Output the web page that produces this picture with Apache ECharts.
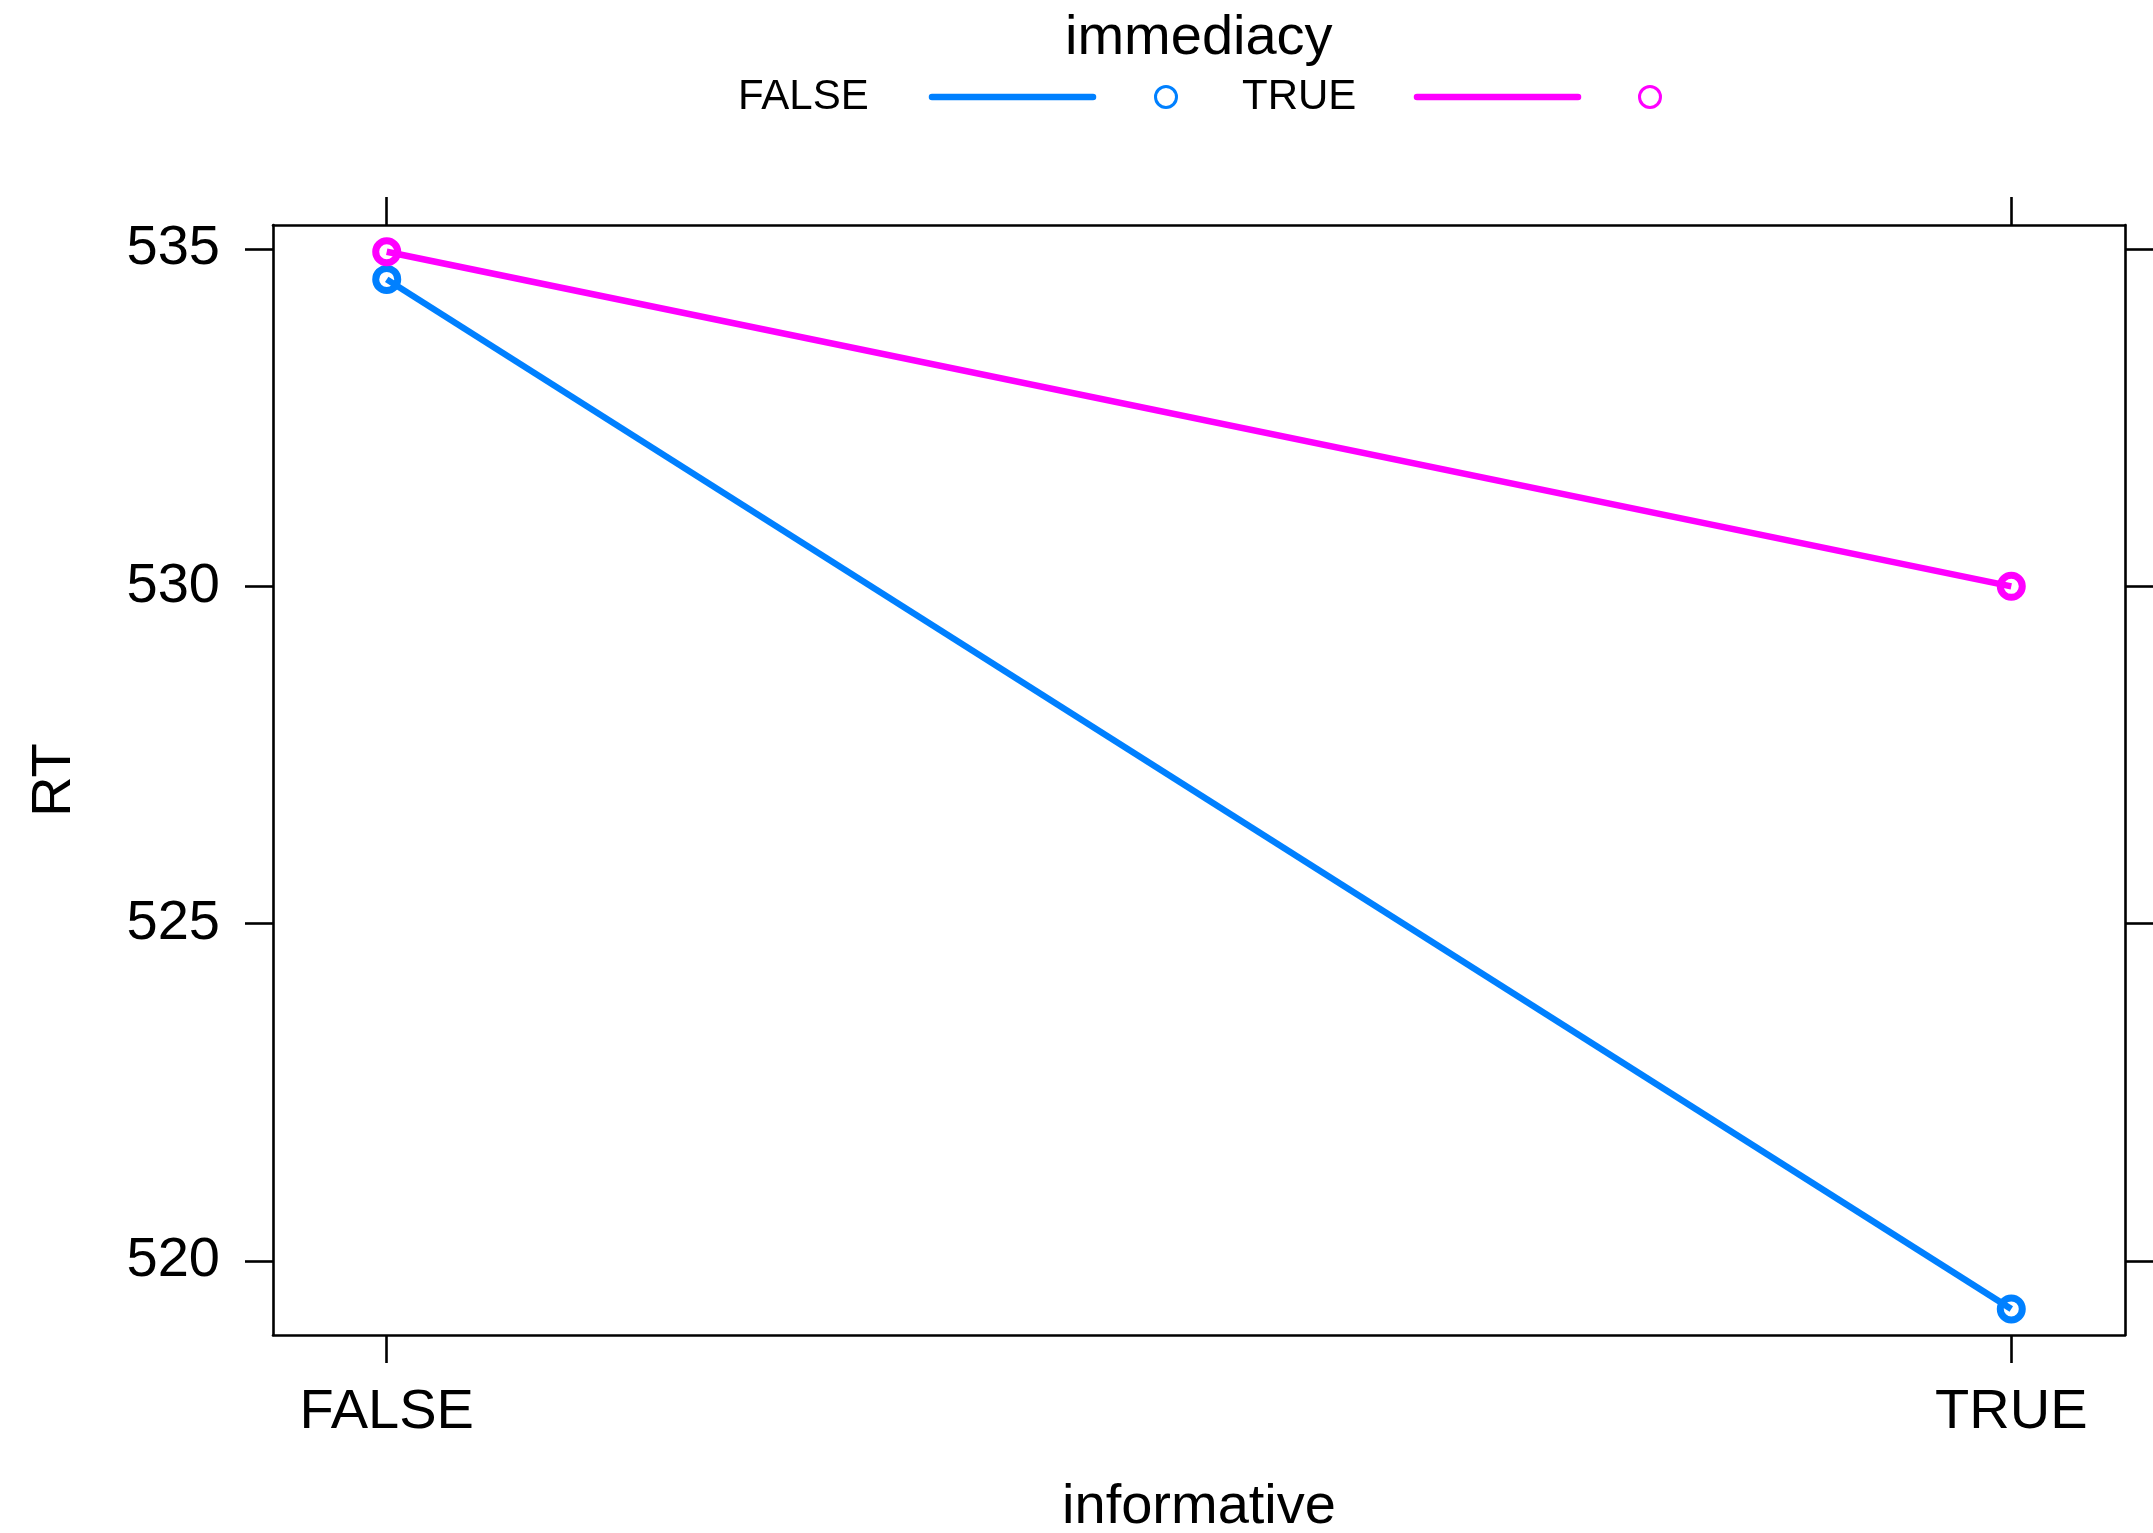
<!DOCTYPE html>
<html>
<head>
<meta charset="utf-8">
<title>RT by informative and immediacy</title>
<script src="https://cdn.jsdelivr.net/npm/echarts@6/dist/echarts.min.js"></script>
<style>
  html, body { margin: 0; padding: 0; background: #ffffff; }
  #chart { width: 2153px; height: 1533px; }
</style>
</head>
<body>
<div id="chart"></div>
<script>
// Factor levels
const informativeLevels = ['FALSE', 'TRUE'];
const immediacyLevels = ['FALSE', 'TRUE'];

// Mean RT per informative level, one array per immediacy level
const rtImmediacyFalse = [534.55, 519.29];
const rtImmediacyTrue = [534.96, 530.00];

// Y axis tick values
const rtTicks = [520, 525, 530, 535];

const seriesColors = ['#0080ff', '#ff00ff'];
const FONT = '"Liberation Sans", Arial, Helvetica, sans-serif';

// Factor levels sit at positions 1..n on the x scale
const levelPositions = informativeLevels.map((_, i) => i + 1);
const toPoints = vals => vals.map((v, i) => [levelPositions[i], v]);

const axisLine = { show: true, lineStyle: { color: '#000', width: 2.6 } };
const xMin = 0.93, xMax = 2.07;
const yMin = 518.903, yMax = 535.356;

function xAxisBase(position, withLabels) {
  return {
    type: 'value',
    position: position,
    min: xMin,
    max: xMax,
    axisLine: axisLine,
    splitLine: { show: false },
    axisTick: {
      show: true, inside: false, length: 28,
      customValues: levelPositions,
      lineStyle: { color: '#000', width: 2.6 }
    },
    axisLabel: {
      show: withLabels,
      customValues: levelPositions,
      formatter: v => informativeLevels[Math.round(v) - 1] || '',
      fontFamily: FONT, fontSize: 56, color: '#000', margin: 50
    }
  };
}

function yAxisBase(position, withLabels) {
  return {
    type: 'value',
    position: position,
    min: yMin,
    max: yMax,
    axisLine: axisLine,
    splitLine: { show: false },
    axisTick: {
      show: true, inside: false, length: 28,
      customValues: rtTicks,
      lineStyle: { color: '#000', width: 2.6 }
    },
    axisLabel: {
      show: withLabels,
      customValues: rtTicks,
      fontFamily: FONT, fontSize: 56, color: '#000', margin: 53
    }
  };
}

const xBottom = Object.assign(xAxisBase('bottom', true), {
  name: 'informative',
  nameLocation: 'middle',
  nameGap: 145,
  nameTextStyle: { fontFamily: FONT, fontSize: 56, color: '#000' }
});
const xTop = xAxisBase('top', false);

const yLeft = Object.assign(yAxisBase('left', true), {
  name: 'RT',
  nameLocation: 'middle',
  nameGap: 190,
  nameTextStyle: { fontFamily: FONT, fontSize: 56, color: '#000' }
});
const yRight = yAxisBase('right', false);

function makeSeries(name, values, color) {
  return {
    name: name,
    type: 'line',
    xAxisIndex: 0,
    yAxisIndex: 0,
    data: toPoints(values),
    symbol: 'circle',
    symbolSize: 22,
    showSymbol: true,
    lineStyle: { color: color, width: 6.5 },
    itemStyle: { color: 'none', borderColor: color, borderWidth: 7 },
    emphasis: { disabled: true },
    animation: false
  };
}

// Key in the top margin: label, line sample, point sample for each level
function legendEntry(label, color, x0, lineStart, circleX) {
  return {
    type: 'group',
    x: x0,
    y: 97,
    children: [
      { type: 'text', x: 0, y: 0,
        style: { text: label, fontFamily: FONT, fontSize: 42, fill: '#000',
                 align: 'left', verticalAlign: 'middle' } },
      { type: 'line', shape: { x1: lineStart, y1: 0, x2: lineStart + 161, y2: 0 },
        style: { stroke: color, lineWidth: 6.5, lineCap: 'round' } },
      { type: 'circle', shape: { cx: circleX, cy: 0, r: 10.5 },
        style: { stroke: color, lineWidth: 3, fill: 'none' } }
    ]
  };
}

const chart = echarts.init(document.getElementById('chart'), null, { renderer: 'canvas' });
chart.setOption({
  backgroundColor: '#ffffff',
  animation: false,
  title: {
    text: 'immediacy',
    left: 1065,
    top: 11,
    padding: 0,
    textStyle: { fontFamily: FONT, fontSize: 56, fontWeight: 'normal', color: '#000' }
  },
  grid: {
    left: 273, right: 28, top: 225, bottom: 198,
    containLabel: false,
    outerBoundsMode: 'none'
  },
  xAxis: [xBottom, xTop],
  yAxis: [yLeft, yRight],
  series: [
    makeSeries(immediacyLevels[0], rtImmediacyFalse, seriesColors[0]),
    makeSeries(immediacyLevels[1], rtImmediacyTrue, seriesColors[1])
  ],
  graphic: [
    legendEntry(immediacyLevels[0], seriesColors[0], 738, 194, 428),
    legendEntry(immediacyLevels[1], seriesColors[1], 1242, 175, 408)
  ]
});
</script>
</body>
</html>
